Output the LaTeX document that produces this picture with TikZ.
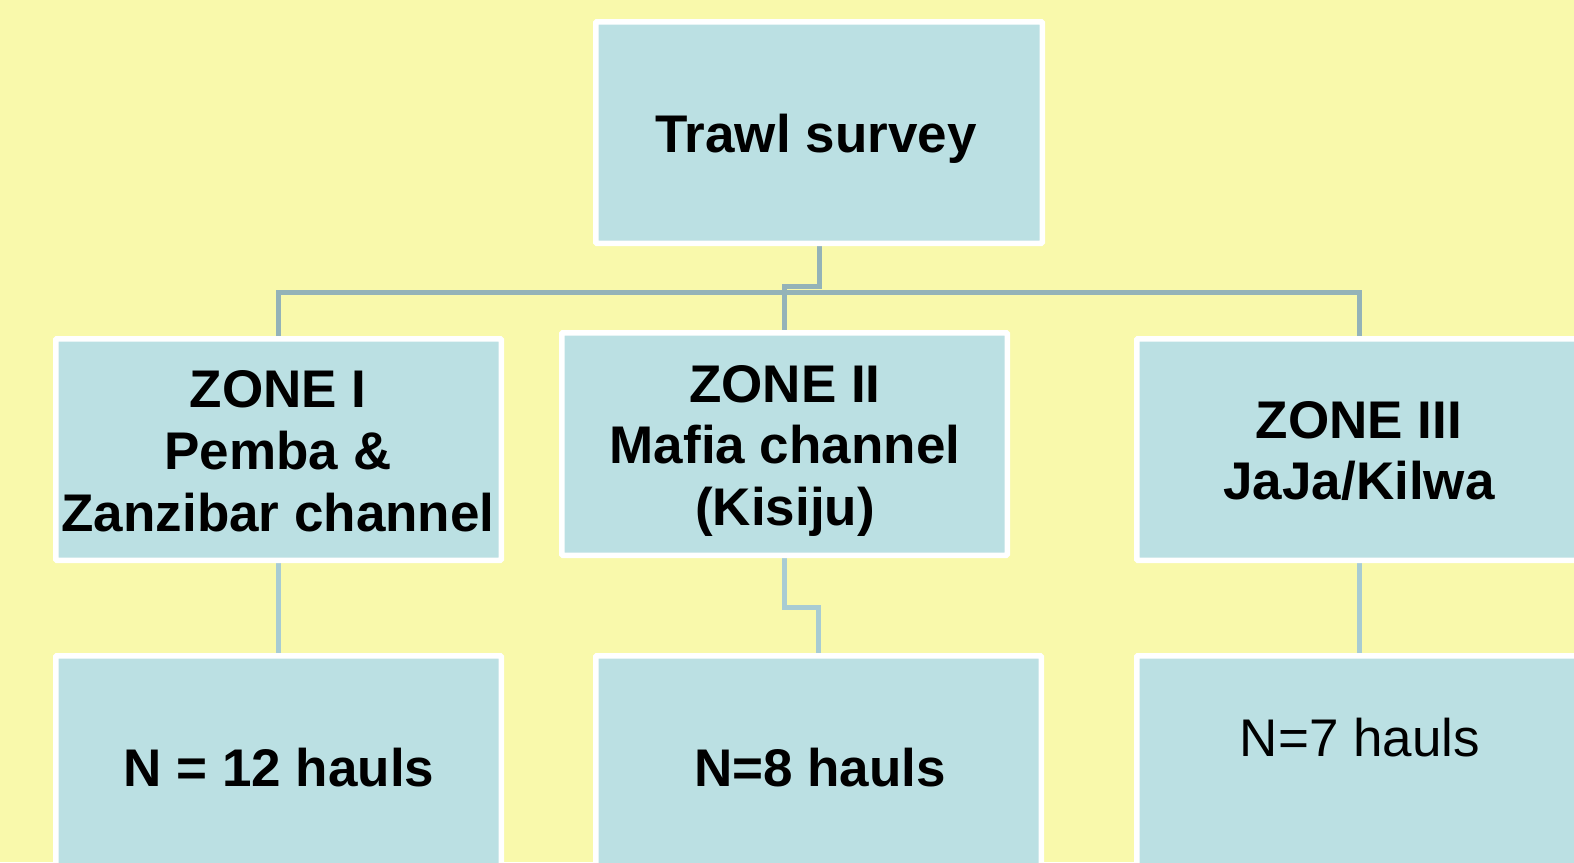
\documentclass[tikz,border=0pt]{standalone}
\usepackage{fontspec}
\setmainfont{Liberation Sans}
\definecolor{bgyellow}{RGB}{249,249,171}
\definecolor{boxfill}{RGB}{187,224,227}
\definecolor{lineA}{RGB}{148,179,184}
\definecolor{lineB}{RGB}{168,204,211}
\pgfdeclarelayer{bgl}
\pgfdeclarelayer{linel}
\pgfsetlayers{bgl,linel,main}
\tikzset{
  box/.style={draw=white, line width=5.5pt, fill=boxfill, rounded corners=1pt,
    minimum width=445.5pt, minimum height=221.5pt, inner sep=0pt},
  lbl/.style={anchor=base, inner sep=0pt, font=\fontsize{53}{62}\selectfont\bfseries},
  lblr/.style={anchor=base, inner sep=0pt, font=\fontsize{53}{62}\selectfont},
  connA/.style={draw=lineA, line width=5pt},
  connB/.style={draw=lineB, line width=5pt}
}
\begin{document}
\begin{tikzpicture}[x=1pt,y=-1pt]
\useasboundingbox (0,0) rectangle (1574,862);
\clip (0,0) rectangle (1574,862);
\begin{pgfonlayer}{bgl}
\fill[bgyellow] (0,0) rectangle (1574,862);
\end{pgfonlayer}
% boxes
\node[box, minimum width=446.5pt] (top) at (819,132.5) {};
\node[box] (z1) at (278.5,449.5) {};
\node[box, minimum height=222.5pt] (z2) at (784.5,444) {};
\node[box] (z3) at (1359.5,449.5) {};
\node[box] (b1) at (278.5,766.5) {};
\node[box] (b2) at (818.5,766.5) {};
\node[box] (b3) at (1359.5,766.5) {};
% helper coordinates
\coordinate (j) at (0,286);
\coordinate (h) at (0,292);
\coordinate (m) at (0,607);
% connectors
\begin{pgfonlayer}{linel}
\draw[connA] (top.south) -- (top.south |- j) -- (z2.north |- j) -- (z2.north);
\draw[connA] (z1.north) -- (z1.north |- h) -- (z3.north |- h) -- (z3.north);
\draw[connB] (z1.south) -- (b1.north);
\draw[connB] (z2.south) -- (z2.south |- m) -- (b2.north |- m) -- (b2.north);
\draw[connB] (z3.south) -- (b3.north);
\end{pgfonlayer}
% texts
\node[lbl] (ttop) at (816,152) {Trawl survey};
\node[lbl] (t1a) at (278,407) {ZONE I};
\node[lbl] (t1b) at (278,469) {Pemba \&};
\node[lbl] (t1c) at (278,531) {Zanzibar channel};
\node[lbl] (t2a) at (785,402) {ZONE II};
\node[lbl] (t2b) at (785,463) {Mafia channel};
\node[lbl] (t2c) at (785,525) {(Kisiju)};
\node[lbl] (t3a) at (1359,438) {ZONE III};
\node[lbl] (t3b) at (1359,499) {JaJa/Kilwa};
\node[lbl] (n1) at (279,786) {N = 12 hauls};
\node[lbl] (n2) at (820,786) {N=8 hauls};
\node[lblr] (n3) at (1360,756) {N=7 hauls};
\end{tikzpicture}
\end{document}
